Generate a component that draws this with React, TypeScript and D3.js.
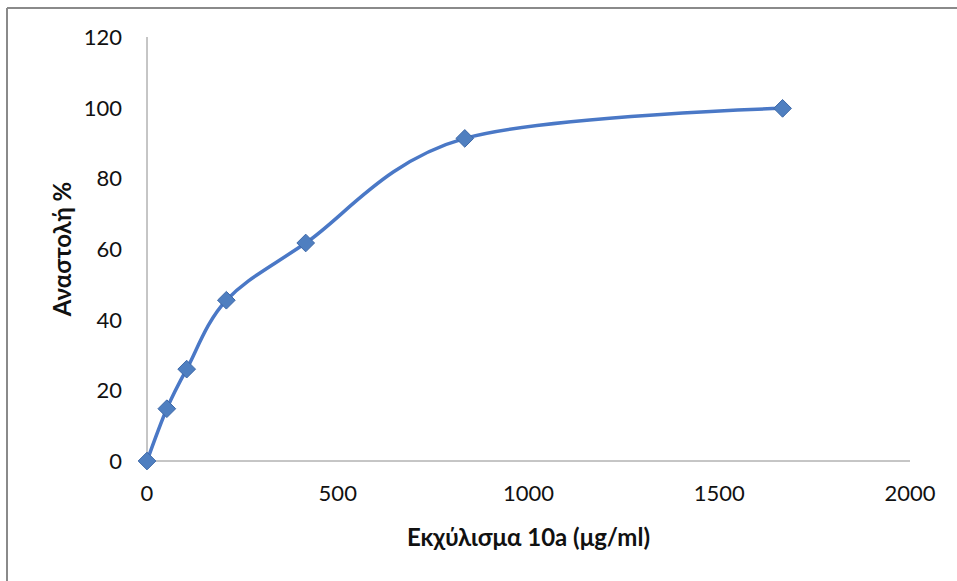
import React from "react";
import * as d3 from "d3";

const concentrations = [0, 52, 104, 208, 416, 833, 1666];
const inhibition = [0, 14.8, 26, 45.5, 61.7, 91.3, 99.8];
const xTicks = [0, 500, 1000, 1500, 2000];
const yTicks = [0, 20, 40, 60, 80, 100, 120];
const xTitle = "Εκχύλισμα 10a (μg/ml)";
const yTitle = "Αναστολή %";

const W = 957;
const H = 581;
const left = 147;
const right = 910;
const top = 37;
const bottom = 461;

export default function App() {
  const x = d3.scaleLinear().domain([0, 2000]).range([left, right]);
  const y = d3.scaleLinear().domain([0, 120]).range([bottom, top]);
  const pts: [number, number][] = concentrations.map((c, i) => [x(c), y(inhibition[i])]);
  const line = d3.line().curve(d3.curveCardinal.tension(0))(pts) || "";
  const diamond = d3.symbol().type(d3.symbolDiamond2).size(200)() || "";
  const font = "Lato, 'Open Sans', sans-serif";
  return (
    <svg width={W} height={H} style={{ position: "absolute", left: 0, top: 0, background: "#fff" }}>
      <rect x={0} y={0} width={W} height={H} fill="#fff" />
      <line x1={7} x2={W} y1={8} y2={8} stroke="#8a8a8a" strokeWidth={2} />
      <line x1={7} x2={7} y1={8} y2={H} stroke="#8a8a8a" strokeWidth={2} />
      <line x1={left} x2={left} y1={top} y2={bottom} stroke="#8c8c8c" strokeWidth={1} />
      <line x1={left} x2={right} y1={bottom} y2={bottom} stroke="#8c8c8c" strokeWidth={1} />
      {yTicks.map((t) => (
        <text key={t} x={122} y={y(t)} dy="0.36em" textAnchor="end" fontFamily={font} fontSize={22} fill="#111">
          {t}
        </text>
      ))}
      {xTicks.map((t) => (
        <text key={t} x={x(t)} y={493} dy="0.36em" textAnchor="middle" fontFamily={font} fontSize={22} fill="#111">
          {t}
        </text>
      ))}
      <text x={(left + right) / 2} y={537} dy="0.36em" textAnchor="middle" fontFamily={font} fontSize={24} fontWeight="bold" fill="#111">
        {xTitle}
      </text>
      <text transform={`translate(62,${(top + bottom) / 2}) rotate(-90)`} dy="0.36em" textAnchor="middle" fontFamily={font} fontSize={24} fontWeight="bold" fill="#111">
        {yTitle}
      </text>
      <path d={line} fill="none" stroke="#4a78c6" strokeWidth={3.5} strokeLinecap="round" />
      {pts.map(([px, py], i) => (
        <path key={i} d={diamond} transform={`translate(${px},${py})`} fill="#4f7fc0" stroke="#3d68a8" strokeWidth={1} />
      ))}
    </svg>
  );
}
